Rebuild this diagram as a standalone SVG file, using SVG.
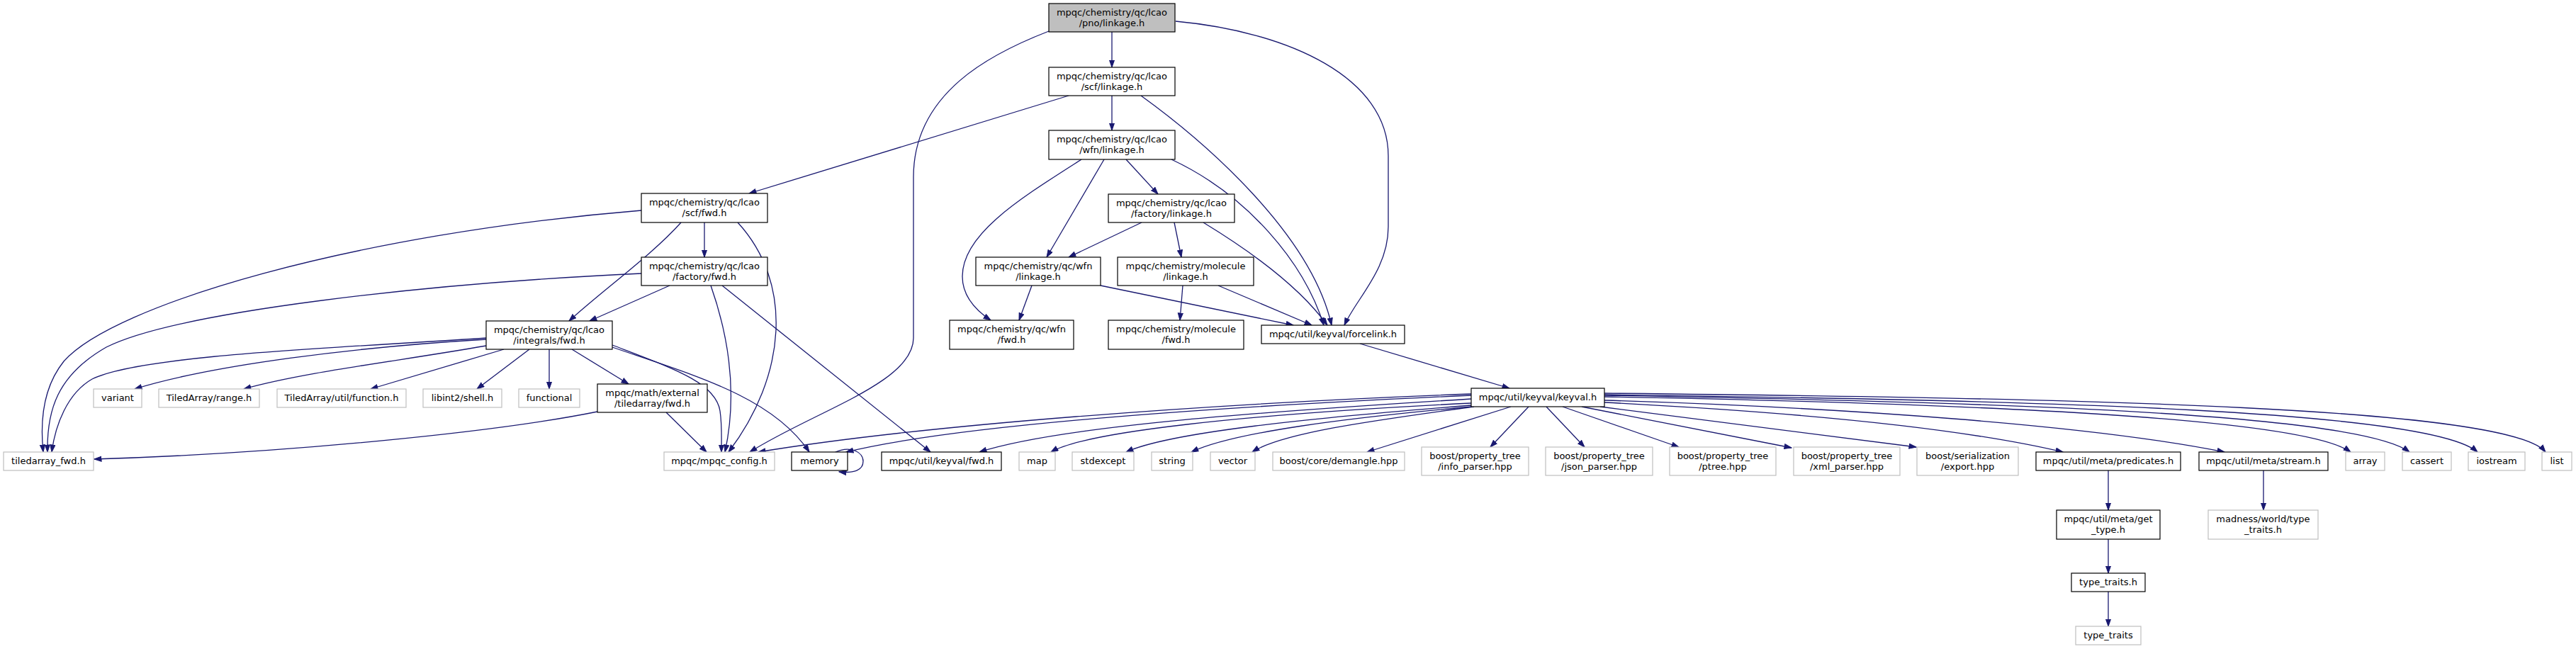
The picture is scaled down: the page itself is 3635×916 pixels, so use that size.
<svg xmlns="http://www.w3.org/2000/svg" width="3635" height="916" viewBox="0 0 3635 916">
<style>
.n rect{fill:#fff;stroke:#000;stroke-width:1.2}
.x rect{fill:#fff;stroke:#bfbfbf;stroke-width:1.2}
.r rect{fill:#bfbfbf;stroke:#000;stroke-width:1.2}
text{font-family:"DejaVu Sans","Liberation Sans",sans-serif;font-size:13px;fill:#000;text-anchor:middle}
#edges path{fill:none;stroke:#191970;stroke-width:1.3;marker-end:url(#ah)}
</style>
<defs>
<marker id="ah" markerUnits="userSpaceOnUse" markerWidth="12" markerHeight="9" refX="10.5" refY="4" orient="auto" viewBox="0 0 12 9"><path d="M0.5,0.5 L10.5,4 L0.5,7.5 z" fill="#191970" stroke="#191970" stroke-width="1"/></marker>
</defs>
<rect width="3635" height="916" fill="#fff"/>
<g id="edges">
<path d="M1569,45 L1569,95"/>
<path d="M1480,44 C1400,75 1289,130 1289,250 L1289,477 C1289,540 1150,580 1058,638"/>
<path d="M1659,30 C1820,45 1959,110 1959,220 L1959,320 C1959,380 1915,420 1897,459"/>
<path d="M1569,135 L1569,184"/>
<path d="M1508,135 L1057,273"/>
<path d="M1610,135 C1700,200 1850,330 1879,459"/>
<path d="M1589,225 L1634,274"/>
<path d="M1558,225 L1477,363"/>
<path d="M1526,225 C1440,280 1358,330 1358,390 C1358,420 1380,440 1398,452"/>
<path d="M1653,225 C1760,275 1840,370 1868,459"/>
<path d="M1611,314 L1508,363"/>
<path d="M1657,314 L1667,363"/>
<path d="M1698,314 C1790,370 1845,420 1873,459"/>
<path d="M1456,403 L1438,452"/>
<path d="M1553,403 L1825,459"/>
<path d="M1669,403 L1665,452"/>
<path d="M1719,403 L1851,459"/>
<path d="M1919,485 L2130,548"/>
<path d="M994,314 L994,363"/>
<path d="M961,314 C920,360 850,410 803,453"/>
<path d="M905,297 C500,330 160,430 90,510 C62,545 56,590 61,638"/>
<path d="M905,386 C600,400 250,440 150,490 C80,530 66,580 67,638"/>
<path d="M1041,314 C1120,400 1110,530 1028,638"/>
<path d="M945,403 L832,453"/>
<path d="M1003,403 C1030,480 1040,560 1023,638"/>
<path d="M1019,403 L1313,638"/>
<path d="M686,477 C500,490 200,500 130,535 C95,555 78,600 73,638"/>
<path d="M686,479 C500,490 300,515 190,549"/>
<path d="M686,488 C560,510 430,525 344,549"/>
<path d="M711,493 L523,549"/>
<path d="M747,493 L673,549"/>
<path d="M775,493 L775,549"/>
<path d="M807,493 L887,542"/>
<path d="M864,487 C950,520 1010,540 1016,580 C1019,600 1018,620 1018,638"/>
<path d="M864,490 C980,530 1090,560 1142,638"/>
<path d="M843,581 C700,610 400,640 133,648"/>
<path d="M940,582 L997,638"/>
<path d="M1177,639 C1200,628 1218,638 1218,651 C1218,664 1205,668 1184,666"/>
<path d="M2076,556 C1700,570 1300,600 1070,638"/>
<path d="M2076,558 C1700,575 1350,600 1194,638"/>
<path d="M2076,563 C1800,580 1500,600 1382,638"/>
<path d="M2076,569 C1750,585 1530,610 1483,638"/>
<path d="M2076,572 C1850,590 1650,610 1589,638"/>
<path d="M2076,574 C1900,590 1740,610 1681,638"/>
<path d="M2080,574 C1950,592 1810,610 1767,638"/>
<path d="M2132,574 L1929,638"/>
<path d="M2157,574 L2103,631"/>
<path d="M2182,574 L2236,631"/>
<path d="M2205,574 L2369,631"/>
<path d="M2232,574 L2528,632"/>
<path d="M2258,574 L2704,631"/>
<path d="M2264,568 C2500,580 2750,600 2911,638"/>
<path d="M2264,565 C2600,575 2950,600 3139,638"/>
<path d="M2264,560 C2800,570 3250,590 3317,638"/>
<path d="M2264,558 C2850,568 3330,585 3400,638"/>
<path d="M2264,557 C2900,565 3430,580 3496,638"/>
<path d="M2264,555 C2950,562 3540,575 3592,638"/>
<path d="M2975,664 L2975,720"/>
<path d="M2975,761 L2975,809"/>
<path d="M2975,835 L2975,884"/>
<path d="M3194,664 L3194,720"/>
</g>
<g id="root" class="r"><rect x="1480" y="5" width="178" height="40"/><text x="1569" y="22">mpqc/chemistry/qc/lcao</text><text x="1569" y="37">/pno/linkage.h</text></g>
<g id="scf_linkage" class="n"><rect x="1480" y="95" width="178" height="40"/><text x="1569" y="112">mpqc/chemistry/qc/lcao</text><text x="1569" y="127">/scf/linkage.h</text></g>
<g id="wfn_linkage" class="n"><rect x="1480" y="184" width="178" height="41"/><text x="1569" y="201">mpqc/chemistry/qc/lcao</text><text x="1569" y="216">/wfn/linkage.h</text></g>
<g id="factory_linkage" class="n"><rect x="1564" y="274" width="178" height="40"/><text x="1653" y="291">mpqc/chemistry/qc/lcao</text><text x="1653" y="306">/factory/linkage.h</text></g>
<g id="qcwfn_linkage" class="n"><rect x="1377" y="363" width="176" height="40"/><text x="1465" y="380">mpqc/chemistry/qc/wfn</text><text x="1465" y="395">/linkage.h</text></g>
<g id="molecule_linkage" class="n"><rect x="1577" y="363" width="192" height="40"/><text x="1673" y="380">mpqc/chemistry/molecule</text><text x="1673" y="395">/linkage.h</text></g>
<g id="scf_fwd" class="n"><rect x="905" y="273" width="178" height="41"/><text x="994" y="290">mpqc/chemistry/qc/lcao</text><text x="994" y="305">/scf/fwd.h</text></g>
<g id="factory_fwd" class="n"><rect x="905" y="363" width="178" height="40"/><text x="994" y="380">mpqc/chemistry/qc/lcao</text><text x="994" y="395">/factory/fwd.h</text></g>
<g id="qcwfn_fwd" class="n"><rect x="1340" y="452" width="175" height="41"/><text x="1427.5" y="469">mpqc/chemistry/qc/wfn</text><text x="1427.5" y="484">/fwd.h</text></g>
<g id="molecule_fwd" class="n"><rect x="1564" y="452" width="191" height="41"/><text x="1659.5" y="469">mpqc/chemistry/molecule</text><text x="1659.5" y="484">/fwd.h</text></g>
<g id="forcelink" class="n"><rect x="1780" y="459" width="202" height="26"/><text x="1881" y="476">mpqc/util/keyval/forcelink.h</text></g>
<g id="integrals_fwd" class="n"><rect x="686" y="453" width="178" height="40"/><text x="775" y="470">mpqc/chemistry/qc/lcao</text><text x="775" y="485">/integrals/fwd.h</text></g>
<g id="math_ta_fwd" class="n"><rect x="843" y="542" width="155" height="40"/><text x="920.5" y="559">mpqc/math/external</text><text x="920.5" y="574">/tiledarray/fwd.h</text></g>
<g id="keyval" class="n"><rect x="2076" y="548" width="188" height="26"/><text x="2170" y="565">mpqc/util/keyval/keyval.h</text></g>
<g id="variant" class="x"><rect x="132" y="549" width="68" height="26"/><text x="166" y="566">variant</text></g>
<g id="ta_range" class="x"><rect x="224" y="549" width="142" height="26"/><text x="295" y="566">TiledArray/range.h</text></g>
<g id="ta_function" class="x"><rect x="391" y="549" width="182" height="26"/><text x="482" y="566">TiledArray/util/function.h</text></g>
<g id="libint_shell" class="x"><rect x="597" y="549" width="111" height="26"/><text x="652.5" y="566">libint2/shell.h</text></g>
<g id="functional" class="x"><rect x="732" y="549" width="86" height="26"/><text x="775" y="566">functional</text></g>
<g id="tiledarray_fwd" class="x"><rect x="5" y="638" width="127" height="26"/><text x="68.5" y="655">tiledarray_fwd.h</text></g>
<g id="mpqc_config" class="x"><rect x="937" y="638" width="156" height="26"/><text x="1015" y="655">mpqc/mpqc_config.h</text></g>
<g id="memory" class="n"><rect x="1117" y="638" width="79" height="26"/><text x="1156.5" y="655">memory</text></g>
<g id="keyval_fwd" class="n"><rect x="1244" y="638" width="169" height="26"/><text x="1328.5" y="655">mpqc/util/keyval/fwd.h</text></g>
<g id="map" class="x"><rect x="1438" y="638" width="51" height="26"/><text x="1463.5" y="655">map</text></g>
<g id="stdexcept" class="x"><rect x="1513" y="638" width="87" height="26"/><text x="1556.5" y="655">stdexcept</text></g>
<g id="string" class="x"><rect x="1625" y="638" width="58" height="26"/><text x="1654" y="655">string</text></g>
<g id="vector" class="x"><rect x="1708" y="638" width="63" height="26"/><text x="1739.5" y="655">vector</text></g>
<g id="demangle" class="x"><rect x="1796" y="638" width="186" height="26"/><text x="1889" y="655">boost/core/demangle.hpp</text></g>
<g id="info_parser" class="x"><rect x="2006" y="631" width="151" height="40"/><text x="2081.5" y="648">boost/property_tree</text><text x="2081.5" y="663">/info_parser.hpp</text></g>
<g id="json_parser" class="x"><rect x="2181" y="631" width="151" height="40"/><text x="2256.5" y="648">boost/property_tree</text><text x="2256.5" y="663">/json_parser.hpp</text></g>
<g id="ptree" class="x"><rect x="2356" y="631" width="150" height="40"/><text x="2431" y="648">boost/property_tree</text><text x="2431" y="663">/ptree.hpp</text></g>
<g id="xml_parser" class="x"><rect x="2531" y="631" width="150" height="40"/><text x="2606" y="648">boost/property_tree</text><text x="2606" y="663">/xml_parser.hpp</text></g>
<g id="export" class="x"><rect x="2705" y="631" width="143" height="40"/><text x="2776.5" y="648">boost/serialization</text><text x="2776.5" y="663">/export.hpp</text></g>
<g id="predicates" class="n"><rect x="2873" y="638" width="204" height="26"/><text x="2975" y="655">mpqc/util/meta/predicates.h</text></g>
<g id="stream" class="n"><rect x="3103" y="638" width="182" height="26"/><text x="3194" y="655">mpqc/util/meta/stream.h</text></g>
<g id="array" class="x"><rect x="3310" y="638" width="55" height="26"/><text x="3337.5" y="655">array</text></g>
<g id="cassert" class="x"><rect x="3390" y="638" width="69" height="26"/><text x="3424.5" y="655">cassert</text></g>
<g id="iostream" class="x"><rect x="3483" y="638" width="80" height="26"/><text x="3523" y="655">iostream</text></g>
<g id="list" class="x"><rect x="3587" y="638" width="42" height="26"/><text x="3608" y="655">list</text></g>
<g id="get_type" class="n"><rect x="2902" y="720" width="146" height="41"/><text x="2975" y="737">mpqc/util/meta/get</text><text x="2975" y="752">_type.h</text></g>
<g id="madness_type_traits" class="x"><rect x="3116" y="720" width="155" height="41"/><text x="3193.5" y="737">madness/world/type</text><text x="3193.5" y="752">_traits.h</text></g>
<g id="type_traits_h" class="n"><rect x="2923" y="809" width="104" height="26"/><text x="2975" y="826">type_traits.h</text></g>
<g id="type_traits" class="x"><rect x="2929" y="884" width="92" height="26"/><text x="2975" y="901">type_traits</text></g>
</svg>
